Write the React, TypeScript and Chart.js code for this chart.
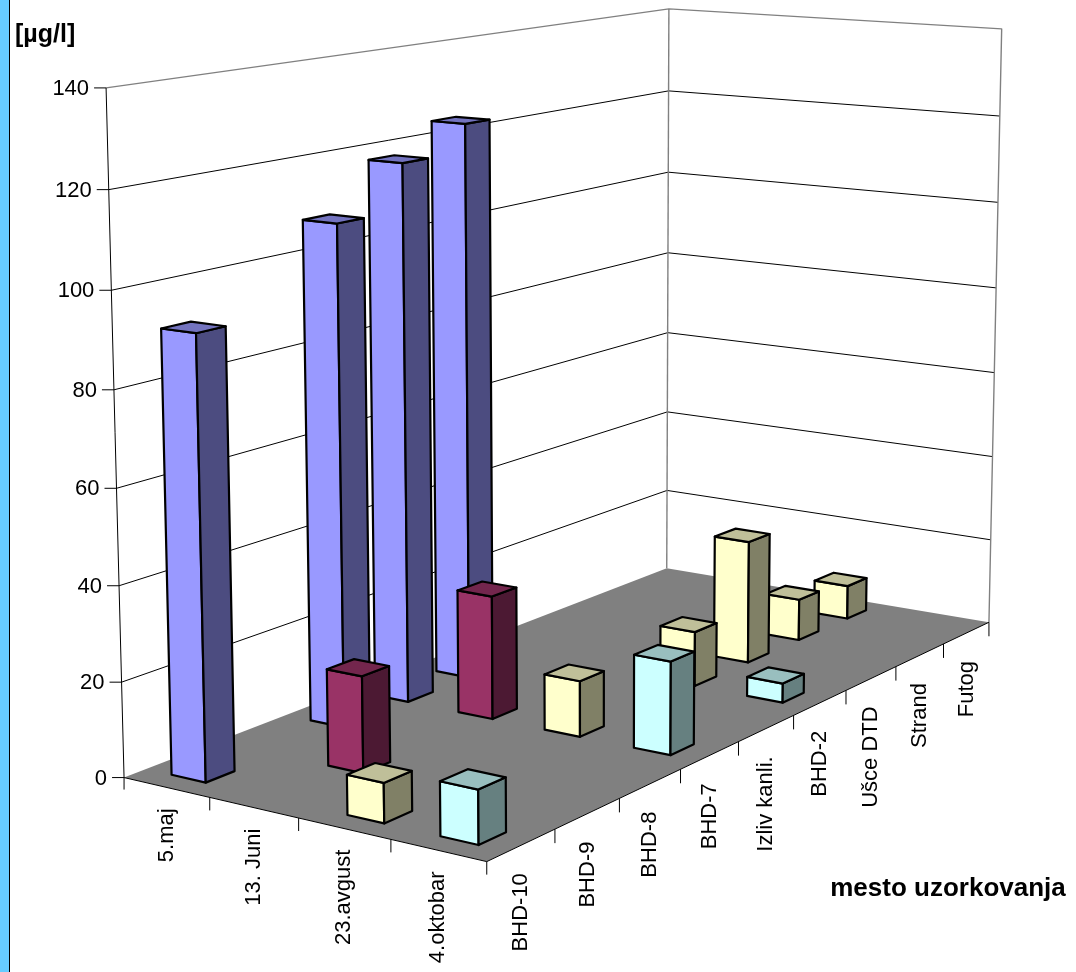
import { useEffect, useRef } from "react";
import Chart from "chart.js/auto";

// ---------- data ----------
const locations = ["BHD-10", "BHD-9", "BHD-8", "BHD-7", "Izliv kanli.", "BHD-2", "Ušce DTD", "Strand", "Futog"];
const dates = ["5.maj", "13. Juni", "23.avgust", "4.oktobar"];
const may5 = [92, null, 108, 118, 124, null, null, null, null];
const jun13 = [null, 20.4, null, 27, null, null, null, null, null];
const aug23 = [8.2, null, null, 12.1, null, 12.3, 28, 9.6, 7.9];
const oct4 = [11, null, null, 20, null, 4.3, null, null, null];
const valueMin = 0;
const valueMax = 140;
const valueStep = 20;
const unitTitle = "[µg/l]";
const categoryTitle = "mesto uzorkovanja";

// ---------- styles ----------
const faceColors = [
  { front: "#9999FF", side: "#4C4C80", top: "#7373BF" },
  { front: "#993366", side: "#4C1933", top: "#73264D" },
  { front: "#FFFFCC", side: "#808066", top: "#BFBF99" },
  { front: "#CCFFFF", side: "#668080", top: "#99BFBF" },
];
const BAR_FRACTION = 0.4;
const FONT = '"Liberation Sans", Arial, sans-serif';

// camera anchors: [cell X, value, cell Z, screen x, screen y] (layout of the 3D box)
const CAMERA_ANCHORS: number[][] = [
  [0, 0, 0, 124, 777.5], [0, 140, 0, 106, 88], [0, 20, 0, 121.5, 682.3], [0, 120, 0, 108.5, 189.3],
  [9, 0, 0, 666.5, 568], [9, 140, 0, 669, 10], [9, 120, 0, 668.8, 90],
  [9, 0, 4, 990.5, 621.7], [9, 140, 4, 1001.7, 29], [9, 120, 4, 999.7, 115.7],
  [0, 0, 4, 487, 861.5], [0, 0, 1, 210, 798], [0, 0, 2, 299, 818], [0, 0, 3, 390.7, 839], [8, 0, 4, 941.7, 645],
];

function solveCamera(): number[] {
  const A: number[][] = [];
  const b: number[] = [];
  for (const [X, V, Z, u, v] of CAMERA_ANCHORS) {
    const Y = V / 20, un = (u - 540) / 500, vn = (v - 486) / 500;
    A.push([X, Y, Z, 1, 0, 0, 0, 0, -un * X, -un * Y, -un * Z]); b.push(un);
    A.push([0, 0, 0, 0, X, Y, Z, 1, -vn * X, -vn * Y, -vn * Z]); b.push(vn);
  }
  const n = 11;
  const M = Array.from({ length: n }, () => new Array(n + 1).fill(0));
  for (let r = 0; r < A.length; r++) {
    for (let i = 0; i < n; i++) {
      for (let j = 0; j < n; j++) M[i][j] += A[r][i] * A[r][j];
      M[i][n] += A[r][i] * b[r];
    }
  }
  for (let c = 0; c < n; c++) {
    let p = c;
    for (let r = c + 1; r < n; r++) if (Math.abs(M[r][c]) > Math.abs(M[p][c])) p = r;
    const tmp = M[c]; M[c] = M[p]; M[p] = tmp;
    for (let r = 0; r < n; r++) {
      if (r === c) continue;
      const f = M[r][c] / M[c][c];
      for (let k = c; k <= n; k++) M[r][k] -= f * M[c][k];
    }
  }
  return M.map((row, i) => row[n] / row[i]);
}

function makeProjector(p: number[]) {
  return (X: number, V: number, Z: number) => {
    const Y = V / 20;
    const d = p[8] * X + p[9] * Y + p[10] * Z + 1;
    return {
      x: ((p[0] * X + p[1] * Y + p[2] * Z + p[3]) / d) * 500 + 540,
      y: ((p[4] * X + p[5] * Y + p[6] * Z + p[7]) / d) * 500 + 486,
      d,
    };
  };
}

type Pt = { x: number; y: number };

function poly(ctx: CanvasRenderingContext2D, pts: Pt[], fill: string | null, stroke: string | null, lw = 1) {
  ctx.beginPath();
  pts.forEach((p, i) => (i ? ctx.lineTo(p.x, p.y) : ctx.moveTo(p.x, p.y)));
  ctx.closePath();
  if (fill) { ctx.fillStyle = fill; ctx.fill(); }
  if (stroke) { ctx.strokeStyle = stroke; ctx.lineWidth = lw; ctx.stroke(); }
}
function line(ctx: CanvasRenderingContext2D, pts: Pt[], stroke: string, lw = 1) {
  ctx.beginPath();
  pts.forEach((p, i) => (i ? ctx.lineTo(p.x, p.y) : ctx.moveTo(p.x, p.y)));
  ctx.strokeStyle = stroke; ctx.lineWidth = lw; ctx.stroke();
}

const scene3d = {
  id: "scene3d",
  beforeDatasetsDraw() { return false; },
  afterDraw(chart: any) {
    const ctx: CanvasRenderingContext2D = chart.ctx;
    const W = chart.width, H = chart.height;
    const xs = chart.scales.x, zs = chart.scales.z, ys = chart.scales.y;
    const nX = xs.getLabels().length, nZ = zs.getLabels().length;
    const catCenter = (i: number) => ((xs.getPixelForValue(i) - xs.left) / xs.width) * nX;
    const serCenter = (s: number) => ((zs.getPixelForValue(s) - zs.left) / zs.width) * nZ;
    const val = (v: number) => ys.min + ((ys.bottom - ys.getPixelForValue(v)) / ys.height) * (ys.max - ys.min);
    const vMin = ys.min, vMax = ys.max;
    let ticks: number[] = (ys.ticks || []).map((t: any) => t.value);
    if (!ticks.length) for (let t = vMin; t <= vMax; t += valueStep) ticks.push(t);
    const P = makeProjector(solveCamera());

    ctx.save();
    ctx.fillStyle = "#FFFFFF"; ctx.fillRect(0, 0, W, H);
    ctx.fillStyle = "#66CCFF"; ctx.fillRect(0, 0, 9, H);
    ctx.fillStyle = "#000000"; ctx.fillRect(9, 0, 1, H);
    ctx.lineJoin = "round";
    ctx.lineCap = "butt";

    // walls
    poly(ctx, [P(0, vMin, 0), P(nX, vMin, 0), P(nX, vMax, 0), P(0, vMax, 0)], "#FFFFFF", null);
    poly(ctx, [P(nX, vMin, 0), P(nX, vMin, nZ), P(nX, vMax, nZ), P(nX, vMax, 0)], "#FFFFFF", null);
    ticks.forEach((t) => {
      if (t <= vMin || t >= vMax) return;
      line(ctx, [P(0, t, 0), P(nX, t, 0), P(nX, t, nZ)], "#000000", 1);
    });
    line(ctx, [P(0, vMax, 0), P(nX, vMax, 0), P(nX, vMax, nZ), P(nX, vMin, nZ)], "#808080", 1.4);
    line(ctx, [P(nX, vMin, 0), P(nX, vMax, 0)], "#808080", 1.4);

    // floor
    poly(ctx, [P(0, vMin, 0), P(nX, vMin, 0), P(nX, vMin, nZ), P(0, vMin, nZ)], "#808080", null);

    // value axis
    const a0 = P(0, vMin, 0);
    line(ctx, [P(0, vMax, 0), a0, { x: a0.x, y: a0.y + 12 }], "#000000", 1);
    ctx.font = `22px ${FONT}`;
    ctx.fillStyle = "#000000";
    ctx.textAlign = "right";
    ctx.textBaseline = "middle";
    ticks.forEach((t) => {
      const p = P(0, t, 0);
      line(ctx, [{ x: p.x - 12, y: p.y }, { x: p.x, y: p.y }], "#000000", 1);
      ctx.fillText(String(t), p.x - 17, p.y + 1);
    });

    // floor front edges and ticks
    line(ctx, [P(0, vMin, 0), P(0, vMin, nZ), P(nX, vMin, nZ)], "#000000", 1);
    for (let z = 1; z <= nZ; z++) {
      const p = P(0, vMin, z);
      line(ctx, [p, { x: p.x, y: p.y + 13 }], "#000000", 1);
    }
    for (let x = 1; x <= nX; x++) {
      const p = P(x, vMin, nZ);
      line(ctx, [p, { x: p.x, y: p.y + 14 }], "#000000", 1);
    }

    // bars
    const bars: any[] = [];
    chart.data.datasets.forEach((ds: any, s: number) => {
      const zc = serCenter(s);
      ds.data.forEach((v: number | null, i: number) => {
        if (v == null) return;
        const xc = catCenter(i);
        bars.push({ xc, zc, v: val(v), s, d: P(xc, 0, zc).d });
      });
    });
    bars.sort((a, b) => b.d - a.d);
    const hw = BAR_FRACTION / 2;
    bars.forEach((b) => {
      const x1 = b.xc - hw, x2 = b.xc + hw, z1 = b.zc - hw, z2 = b.zc + hw;
      const c = faceColors[b.s];
      poly(ctx, [P(x1, vMin, z1), P(x1, vMin, z2), P(x1, b.v, z2), P(x1, b.v, z1)], c.front, "#000000", 2.2);
      poly(ctx, [P(x1, vMin, z2), P(x2, vMin, z2), P(x2, b.v, z2), P(x1, b.v, z2)], c.side, "#000000", 2.2);
      poly(ctx, [P(x1, b.v, z1), P(x1, b.v, z2), P(x2, b.v, z2), P(x2, b.v, z1)], c.top, "#000000", 2.2);
    });

    // series labels (rotated)
    ctx.fillStyle = "#000000";
    ctx.font = `22px ${FONT}`;
    ctx.textAlign = "right";
    ctx.textBaseline = "middle";
    zs.getLabels().forEach((lab: string, s: number) => {
      const p = P(0, vMin, serCenter(s));
      ctx.save();
      ctx.translate(p.x, p.y + 21);
      ctx.rotate(-Math.PI / 2);
      ctx.fillText(lab, 0, 0);
      ctx.restore();
    });
    xs.getLabels().forEach((lab: string, i: number) => {
      const p = P(catCenter(i), vMin, nZ);
      ctx.save();
      ctx.translate(p.x, p.y + 28);
      ctx.rotate(-Math.PI / 2);
      ctx.fillText(lab, 0, 0);
      ctx.restore();
    });

    // titles
    ctx.font = `bold 25px ${FONT}`;
    ctx.textAlign = "left";
    ctx.textBaseline = "alphabetic";
    ctx.fillText(unitTitle, 15, 42);
    ctx.font = `bold 26px ${FONT}`;
    ctx.textAlign = "center";
    ctx.fillText(categoryTitle, 948, 896);
    ctx.restore();
  },
};

export default function App() {
  const ref = useRef<HTMLCanvasElement | null>(null);
  useEffect(() => {
    document.body.style.margin = "0";
    const canvas = ref.current;
    if (!canvas) return;
    const chart = new Chart(canvas, {
      type: "bar",
      data: {
        labels: locations,
        datasets: [
          { label: dates[0], data: may5, backgroundColor: faceColors[0].front },
          { label: dates[1], data: jun13, backgroundColor: faceColors[1].front },
          { label: dates[2], data: aug23, backgroundColor: faceColors[2].front },
          { label: dates[3], data: oct4, backgroundColor: faceColors[3].front },
        ],
      },
      options: {
        responsive: false,
        maintainAspectRatio: false,
        devicePixelRatio: 1,
        animation: false,
        events: [],
        layout: { padding: 0 },
        plugins: { legend: { display: false }, tooltip: { enabled: false } },
        scales: {
          x: { type: "category", labels: locations, offset: true, display: false },
          z: { type: "category", axis: "x", position: "bottom", labels: dates, offset: true, display: false },
          y: { type: "linear", min: valueMin, max: valueMax, ticks: { stepSize: valueStep }, display: false },
        },
      } as any,
      plugins: [scene3d as any],
    });
    return () => chart.destroy();
  }, []);
  return (
    <div style={{ position: "fixed", left: 0, top: 0, width: 1076, height: 972 }}>
      <canvas ref={ref} width={1076} height={972} style={{ display: "block" }} />
    </div>
  );
}
